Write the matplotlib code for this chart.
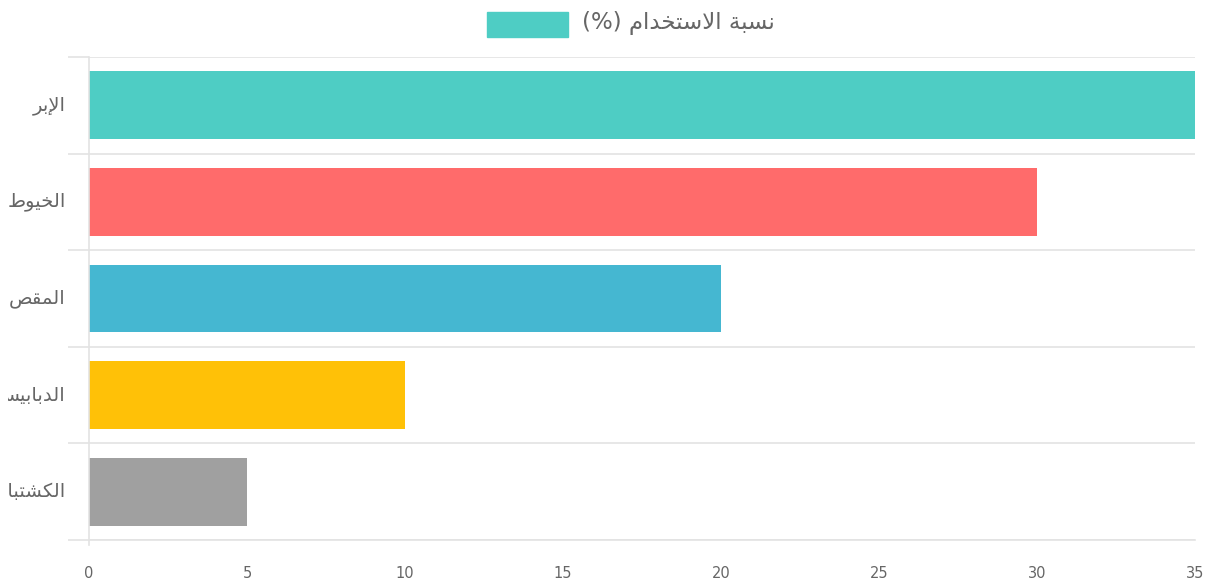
import numpy as np
import matplotlib.pyplot as plt
from matplotlib.transforms import Bbox

# Data
tools = ['الإبر', 'الخيوط', 'المقص', 'الدبابيس', 'الكشتبان']
usage = [35, 30, 20, 10, 5]
colors = ['#4ECDC4', '#FF6B6B', '#45B7D1', '#FFC107', '#A0A0A0']
legend_label = 'نسبة الاستخدام (%)'
x_ticks = [0, 5, 10, 15, 20, 25, 30, 35]

# Minimal Arabic shaping (matplotlib has no complex text layout)
# letter: (isolated, final, initial, medial); None for non-joining-left letters
FORMS = {
    'ا': (0xFE8D, 0xFE8E, None, None),
    'إ': (0xFE87, 0xFE88, None, None),
    'ب': (0xFE8F, 0xFE90, 0xFE91, 0xFE92),
    'ة': (0xFE93, 0xFE94, None, None),
    'ت': (0xFE95, 0xFE96, 0xFE97, 0xFE98),
    'خ': (0xFEA5, 0xFEA6, 0xFEA7, 0xFEA8),
    'د': (0xFEA9, 0xFEAA, None, None),
    'ر': (0xFEAD, 0xFEAE, None, None),
    'س': (0xFEB1, 0xFEB2, 0xFEB3, 0xFEB4),
    'ش': (0xFEB5, 0xFEB6, 0xFEB7, 0xFEB8),
    'ص': (0xFEB9, 0xFEBA, 0xFEBB, 0xFEBC),
    'ط': (0xFEC1, 0xFEC2, 0xFEC3, 0xFEC4),
    'ق': (0xFED5, 0xFED6, 0xFED7, 0xFED8),
    'ك': (0xFED9, 0xFEDA, 0xFEDB, 0xFEDC),
    'ل': (0xFEDD, 0xFEDE, 0xFEDF, 0xFEE0),
    'م': (0xFEE1, 0xFEE2, 0xFEE3, 0xFEE4),
    'ن': (0xFEE5, 0xFEE6, 0xFEE7, 0xFEE8),
    'و': (0xFEED, 0xFEEE, None, None),
    'ي': (0xFEF1, 0xFEF2, 0xFEF3, 0xFEF4),
}
LAM_ALEF = {'ا': (0xFEFB, 0xFEFC), 'إ': (0xFEF9, 0xFEFA)}
MIRROR = {'(': ')', ')': '('}


def shape_word(word):
    # merge lam + alef into ligature tokens first
    toks = []
    i = 0
    while i < len(word):
        if word[i] == 'ل' and i + 1 < len(word) and word[i + 1] in LAM_ALEF:
            toks.append(('LA', word[i + 1]))
            i += 2
        else:
            toks.append(('C', word[i]))
            i += 1

    def joins_left(t):  # can connect to the following letter
        if t[0] == 'LA':
            return False
        f = FORMS.get(t[1])
        return f is not None and f[2] is not None

    def joins_right(t):
        return t[0] == 'LA' or t[1] in FORMS

    out = []
    for k, t in enumerate(toks):
        prev_j = k > 0 and joins_left(toks[k - 1]) and joins_right(t)
        next_j = k + 1 < len(toks) and joins_left(t) and joins_right(toks[k + 1])
        if t[0] == 'LA':
            iso, fin = LAM_ALEF[t[1]]
            out.append(chr(fin if prev_j else iso))
            continue
        f = FORMS.get(t[1])
        if f is None:
            out.append(t[1])
        elif prev_j and next_j:
            out.append(chr(f[3]))
        elif prev_j:
            out.append(chr(f[1]))
        elif next_j:
            out.append(chr(f[2]))
        else:
            out.append(chr(f[0]))
    return ''.join(out)


def ar(text):
    shaped = ' '.join(shape_word(w) for w in text.split(' '))
    return ''.join(MIRROR.get(c, c) for c in reversed(shaped))


W, H = 1213, 588
fig = plt.figure(figsize=(W / 100, H / 100), dpi=100)
ax = fig.add_axes([89 / W, 48 / H, (1195 - 89) / W, (531 - 48) / H])

y = np.arange(len(tools))
ax.barh(y, usage, height=0.7, color=colors, zorder=2)
ax.set_xlim(0, 35)
ax.set_ylim(len(tools) - 0.5, -0.5)

grid_c = '#E3E3E3'
txt_c = '#666666'
ax.set_xticks(x_ticks)
ax.set_xticklabels([str(v) for v in x_ticks])
ax.tick_params(axis='x', length=0, pad=19, labelsize=10.5, labelcolor=txt_c)
ax.set_yticks([])
ax.set_yticks(np.arange(-0.5, len(tools)), minor=True)
ax.tick_params(axis='y', which='minor', length=15, color=grid_c, width=1.2)
ax.grid(axis='y', which='minor', color=grid_c, linewidth=1.2, zorder=0)
for s in ['top', 'right']:
    ax.spines[s].set_visible(False)
ax.spines['bottom'].set_color(grid_c)
ax.spines['bottom'].set_linewidth(1.2)
ax.spines['left'].set_color(grid_c)
ax.spines['left'].set_linewidth(1.2)
ax.spines['left'].set_bounds(-0.5, len(tools) - 0.45)
ax.spines['left'].set_clip_on(False)

# category labels, clipped at the left edge like the original
clip = Bbox.from_extents(8, 0, W, H)
for yi, name in zip(y, tools):
    t = ax.text(-0.021, yi, ar(name), transform=ax.get_yaxis_transform(),
                ha='right', va='center', fontsize=14, color=txt_c,
                family='DejaVu Sans')
    t.set_clip_box(clip)
    t.set_clip_on(True)

# legend
fig.patches.append(plt.Rectangle((487 / W, 1 - 37 / H), 81 / W, 25 / H,
                                 transform=fig.transFigure, color=colors[0]))
fig.text(582 / W, 1 - 23 / H, ar(legend_label), ha='left', va='center',
         fontsize=16.5, color=txt_c, family='DejaVu Sans')

fig.savefig('out.png', dpi=100)
